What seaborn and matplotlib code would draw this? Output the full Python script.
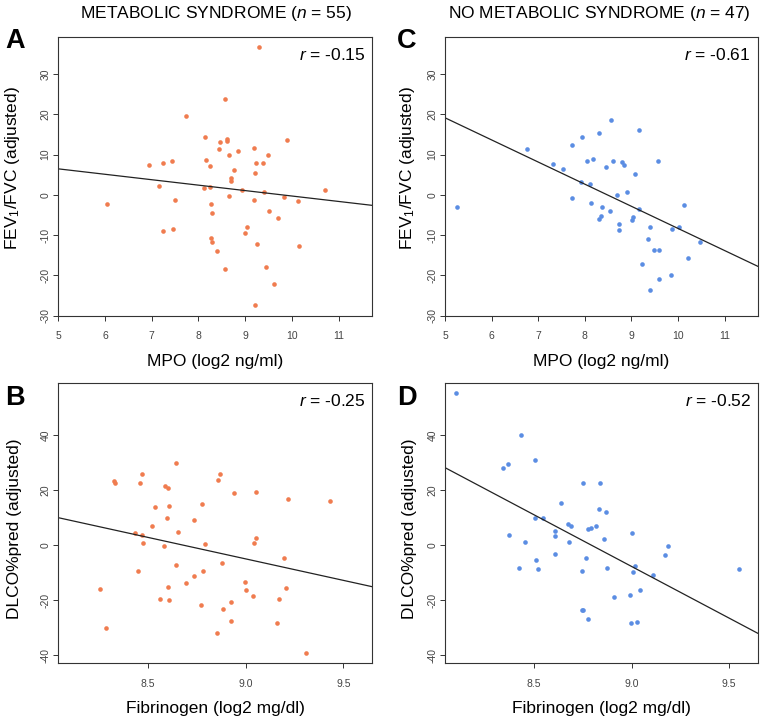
import numpy as np
import pandas as pd
import seaborn as sns
import matplotlib.pyplot as plt
from matplotlib.ticker import FormatStrFormatter

# METABOLIC SYNDROME (n = 55)
mpo_ms = [8.57, 7.73, 8.14, 8.47, 8.60, 8.62, 9.90, 8.43, 8.84, 9.18, 8.65, 9.48, 8.16, 7.44,
          7.25, 6.95, 8.24, 9.24, 9.39, 8.75, 9.20, 8.70, 8.70, 7.16, 8.11, 8.24, 8.94, 9.41,
          10.70, 8.65, 9.82, 7.50, 9.18, 10.12, 6.05, 8.27, 8.30, 9.51, 9.71, 9.03, 7.45, 7.25,
          8.99, 8.27, 8.29, 9.26, 10.16, 8.39, 9.45, 8.57, 9.61, 9.22, 9.30]
fev_ms = [23.7, 19.5, 14.4, 13.1, 13.8, 13.4, 13.5, 11.3, 10.9, 11.7, 9.9, 9.9, 8.6, 8.3,
          7.8, 7.5, 7.2, 7.8, 7.9, 6.1, 5.5, 4.2, 3.4, 2.2, 1.7, 2.0, 1.3, 0.75,
          1.2, -0.4, -0.6, -1.2, -1.2, -1.6, -2.2, -2.2, -4.5, -4.0, -5.8, -8.1, -8.5, -9.0,
          -9.4, -10.8, -11.6, -12.2, -12.6, -14.0, -17.8, -18.4, -22.2, -27.4, 36.8]
fib_ms = [8.645, 8.471, 8.871, 8.326, 8.335, 8.459, 8.859, 8.590, 8.602, 8.941, 9.052, 9.216,
          9.432, 8.537, 8.610, 8.775, 8.598, 8.738, 8.520, 8.656, 8.435, 8.471, 8.474, 8.582,
          8.791, 9.052, 9.043, 9.197, 8.882, 8.645, 8.449, 8.784, 8.738, 8.696, 8.997, 9.005,
          8.256, 8.606, 9.209, 9.038, 8.565, 8.610, 9.171, 8.924, 8.772, 8.887, 8.287, 8.924,
          9.163, 8.855, 9.311]
dlco_ms = [29.7, 25.9, 25.9, 23.4, 22.4, 22.4, 23.5, 21.6, 20.7, 18.9, 19.2, 16.8,
           16.0, 13.9, 14.2, 14.8, 9.8, 9.2, 6.9, 4.8, 4.2, 3.6, 0.7, -0.2,
           0.4, 2.5, 0.7, -4.8, -6.7, -7.2, -9.6, -9.6, -11.3, -13.9, -13.3, -16.4,
           -16.0, -15.4, -15.8, -18.7, -19.5, -20.1, -19.5, -20.7, -21.8, -23.4, -30.2, -27.8,
           -28.2, -32.1, -39.2]

# NO METABOLIC SYNDROME (n = 47)
mpo_nms = [5.25, 6.76, 7.32, 7.54, 7.72, 7.72, 7.95, 7.91, 8.04, 8.11, 8.17, 8.14, 8.31, 8.38,
           8.35, 8.31, 8.46, 8.56, 8.54, 8.61, 8.69, 8.74, 8.74, 8.79, 8.84, 8.91, 9.07, 9.01,
           9.03, 9.16, 9.17, 9.22, 9.35, 9.39, 9.40, 9.48, 9.57, 9.60, 9.60, 9.86, 9.88, 10.02,
           10.14, 10.22, 10.48]
fev_nms = [-3.05, 11.3, 7.7, 6.3, 12.5, -0.7, 14.3, 3.3, 8.5, 2.7, 8.9, -2.1, 15.3, -2.9,
           -5.2, -6.0, 6.8, 18.7, -4.0, 8.5, -0.1, -7.3, -8.7, 8.2, 7.3, 0.7, 5.1, -6.2,
           -5.4, -3.5, 16.1, -17.2, -11.0, -23.6, -8.1, -13.6, 8.5, -13.6, -20.8, -20.0, -8.5, -8.1,
           -2.6, -15.7, -11.8]
fib_nms = [8.435, 8.341, 8.367, 8.502, 8.753, 8.837, 8.638, 8.832, 8.869, 8.505, 8.543, 8.671,
           8.688, 8.775, 8.789, 8.816, 8.609, 8.609, 8.370, 9.001, 8.454, 8.681, 8.859, 9.187,
           9.172, 8.607, 8.767, 8.510, 8.423, 8.522, 8.743, 8.874, 9.015, 9.006, 9.109, 9.551,
           9.044, 8.989, 8.907, 8.745, 8.753, 8.775, 8.997, 9.026, 8.10]
dlco_nms = [39.9, 28.1, 29.6, 31.0, 22.6, 22.6, 15.3, 13.0, 12.1, 9.8, 9.8, 7.7,
            7.1, 5.9, 6.2, 6.9, 5.1, 3.4, 3.6, 4.5, 1.2, 1.0, 2.2, -0.5,
            -3.7, -3.1, -4.6, -5.4, -8.3, -8.7, -9.3, -8.5, -7.7, -9.9, -11.0, -8.7,
            -16.5, -18.0, -18.8, -23.6, -23.6, -26.8, -28.5, -27.9, 55.2]

r_values = ["-0.15", "-0.25", "-0.61", "-0.52"]
mpo_ticks = [5, 6, 7, 8, 9, 10, 11]
fev_ticks = [-30, -20, -10, 0, 10, 20, 30]
fib_ticks = [8.5, 9.0, 9.5]
dlco_ticks = [-40, -20, 0, 20, 40]

ORANGE = "#F07C4F"
BLUE = "#5B8DE3"

sns.set_style("white")
plt.rcParams['font.family'] = ['Liberation Sans', 'DejaVu Sans']
plt.rcParams['mathtext.fontset'] = 'custom'
plt.rcParams['mathtext.rm'] = 'Liberation Sans'
plt.rcParams['mathtext.it'] = 'Liberation Sans:italic'
plt.rcParams['axes.unicode_minus'] = False
plt.rcParams['text.color'] = 'black'
plt.rcParams['axes.labelcolor'] = 'black'

fig = plt.figure(figsize=(7.64, 7.22), dpi=100)


def panel(rect, x, y, color, xlim, ylim, xticks, yticks, xlabel, ylabel, r, ylab_xy, xfmt):
    ax = fig.add_axes(rect)
    ax.set_xlim(xlim)
    ax.set_ylim(ylim)
    sns.regplot(x=x, y=y, ax=ax, ci=None, truncate=False, color=color,
                scatter_kws=dict(s=11, linewidths=0, alpha=1),
                line_kws=dict(color="#222222", lw=0.9))
    ax.set_xlim(xlim)
    ax.set_ylim(ylim)
    ax.set_xticks(xticks)
    ax.set_yticks(yticks)
    ax.xaxis.set_major_formatter(FormatStrFormatter(xfmt))
    for s in ax.spines.values():
        s.set_color("#333333")
        s.set_linewidth(0.8)
    ax.tick_params(axis="both", direction="out", length=3.5, width=0.7, color="#333333",
                   labelsize=7.5, labelcolor="#444444", bottom=True, left=True)
    ax.tick_params(axis="x", pad=7.5)
    ax.tick_params(axis="y", pad=2, labelrotation=90)
    for lab in ax.get_yticklabels():
        lab.set_va("center")
    ax.set_xlabel(xlabel, fontsize=12.5)
    ax.set_ylabel(ylabel, fontsize=12.5)
    ax.xaxis.set_label_coords(0.5, -0.135)
    ax.yaxis.set_label_coords(*ylab_xy)
    ax.text(0.977, 1 - 22.5 / 279, "$\\mathit{r}$ = " + r, transform=ax.transAxes,
            ha="right", va="baseline", fontsize=12.5)
    return ax


fev_lab = "FEV$_\\mathregular{1}$/FVC (adjusted)"
dlco_lab = "DLCO%pred (adjusted)"

panel([0.0763, 0.5623, 0.411, 0.3864], mpo_ms, fev_ms, ORANGE, (5, 11.72), (-30.1, 39.2),
      mpo_ticks, fev_ticks, "MPO (log2 ng/ml)", fev_lab, r_values[0], (-0.115, 0.53), "%d")
panel([0.0763, 0.0813, 0.411, 0.3878], fib_ms, dlco_ms, ORANGE, (8.043, 9.648), (-43, 58.8),
      fib_ticks, dlco_ticks, "Fibrinogen (log2 mg/dl)", dlco_lab, r_values[1], (-0.115, 0.48), "%.1f")
panel([0.5825, 0.5623, 0.4097, 0.3864], mpo_nms, fev_nms, BLUE, (5, 11.72), (-30.1, 39.2),
      mpo_ticks, fev_ticks, "MPO (log2 ng/ml)", fev_lab, r_values[2], (-0.09, 0.53), "%d")
panel([0.5825, 0.0813, 0.4097, 0.3878], fib_nms, dlco_nms, BLUE, (8.043, 9.648), (-43, 58.8),
      fib_ticks, dlco_ticks, "Fibrinogen (log2 mg/dl)", dlco_lab, r_values[3], (-0.09, 0.48), "%.1f")

# panel letters and column titles
for letter, lx, ly in [("A", 5, 48), ("C", 397, 48), ("B", 5, 405), ("D", 397, 405)]:
    fig.text(lx / 764, (722 - ly) / 722, letter, fontsize=19.5, fontweight="bold",
             ha="left", va="baseline")
fig.text(216 / 764, (722 - 18) / 722, "METABOLIC SYNDROME ($\\mathit{n}$ = 55)",
         fontsize=12.5, ha="center", va="baseline")
fig.text(599 / 764, (722 - 18) / 722, "NO METABOLIC SYNDROME ($\\mathit{n}$ = 47)",
         fontsize=12.5, ha="center", va="baseline")

fig.savefig("out.png", dpi=100)
